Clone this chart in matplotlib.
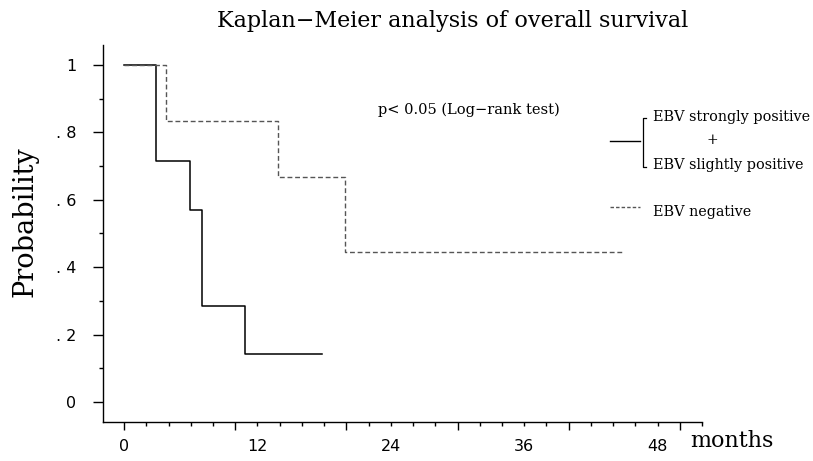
import numpy as np
import matplotlib.pyplot as plt
from matplotlib.ticker import MultipleLocator

# survival curves (months, probability)
pos_months = [0, 2.85, 5.9, 7.0, 10.9, 17.8]
pos_surv = [1.0, 0.714, 0.571, 0.286, 0.143, 0.143]
neg_months = [0, 3.8, 13.85, 19.9, 45.0]
neg_surv = [1.0, 0.833, 0.667, 0.444, 0.444]

xlabels = [0, 12, 24, 36, 48]
yticks = [0, 0.2, 0.4, 0.6, 0.8, 1.0]
ylabels = ['0', '. 2', '. 4', '. 6', '. 8', '1']

serif = 'DejaVu Serif'
sans = 'DejaVu Sans'

fig = plt.figure(figsize=(8.13, 4.61), dpi=100)
ax = fig.add_axes([0.1267, 0.0846, 0.7368, 0.8178])

ax.step(pos_months, pos_surv, where='post', color='black', lw=1.1)
ax.step(neg_months, neg_surv, where='post', color='#555555', lw=1.0,
        dashes=(3.5, 2))

ax.set_xlim(-1.9, 52)
ax.set_ylim(-0.059, 1.059)

for s in ['top', 'right']:
    ax.spines[s].set_visible(False)
for s in ['left', 'bottom']:
    ax.spines[s].set_linewidth(1.0)

ax.xaxis.set_major_locator(MultipleLocator(10))
ax.xaxis.set_minor_locator(MultipleLocator(2))
ax.tick_params(axis='x', which='major', length=6, width=1, labelbottom=False)
ax.tick_params(axis='x', which='minor', length=3, width=1)

ax.set_yticks(yticks)
ax.set_yticklabels(ylabels, fontfamily=sans, fontsize=11.5)
ax.yaxis.set_minor_locator(MultipleLocator(0.1))
ax.tick_params(axis='y', which='major', length=7, width=1, pad=12)
ax.tick_params(axis='y', which='minor', length=3, width=1)

# month labels sit at their own positions under the axis
for m in xlabels:
    ax.annotate(str(m), (m, 0), xycoords=('data', 'figure pixels'),
                xytext=(0, 15), textcoords='offset pixels',
                ha='center', va='center', fontfamily=sans, fontsize=11.5)

fig.text(453 / 813, 1 - 21 / 461, 'Kaplan\u2212Meier analysis of overall survival',
         ha='center', va='center', fontfamily=serif, fontsize=16)
fig.text(25 / 813, 1 - 222 / 461, 'Probability', rotation=90,
         ha='center', va='center', fontfamily=serif, fontsize=19.5)
fig.text(690 / 813, 1 - 441 / 461, 'months', ha='left', va='center',
         fontfamily=serif, fontsize=16)
fig.text(469 / 813, 1 - 110 / 461, 'p< 0.05 (Log\u2212rank test)',
         ha='center', va='center', fontfamily=serif, fontsize=10.5)

# legend drawn by hand
def px(x, y):
    return x / 813, 1 - y / 461

fig.add_artist(plt.Line2D([px(610, 0)[0], px(640, 0)[0]], [px(0, 141)[1]] * 2,
                          color='black', lw=1))
fig.add_artist(plt.Line2D([px(646, 0)[0], px(643, 0)[0], px(643, 0)[0], px(646, 0)[0]],
                          [px(0, 118)[1], px(0, 118)[1], px(0, 167)[1], px(0, 167)[1]],
                          color='black', lw=0.9))
fig.add_artist(plt.Line2D([px(610, 0)[0], px(640, 0)[0]], [px(0, 207)[1]] * 2,
                          color='#555555', lw=1, dashes=(2.5, 1.5)))
fig.text(*px(653, 117), 'EBV strongly positive', ha='left', va='center',
         fontfamily=serif, fontsize=10.4)
fig.text(*px(712, 140), '+', ha='center', va='center', fontfamily=serif, fontsize=10)
fig.text(*px(653, 165), 'EBV slightly positive', ha='left', va='center',
         fontfamily=serif, fontsize=10.4)
fig.text(*px(653, 212), 'EBV negative', ha='left', va='center',
         fontfamily=serif, fontsize=10.4)

fig.savefig('out.png', dpi=100)
